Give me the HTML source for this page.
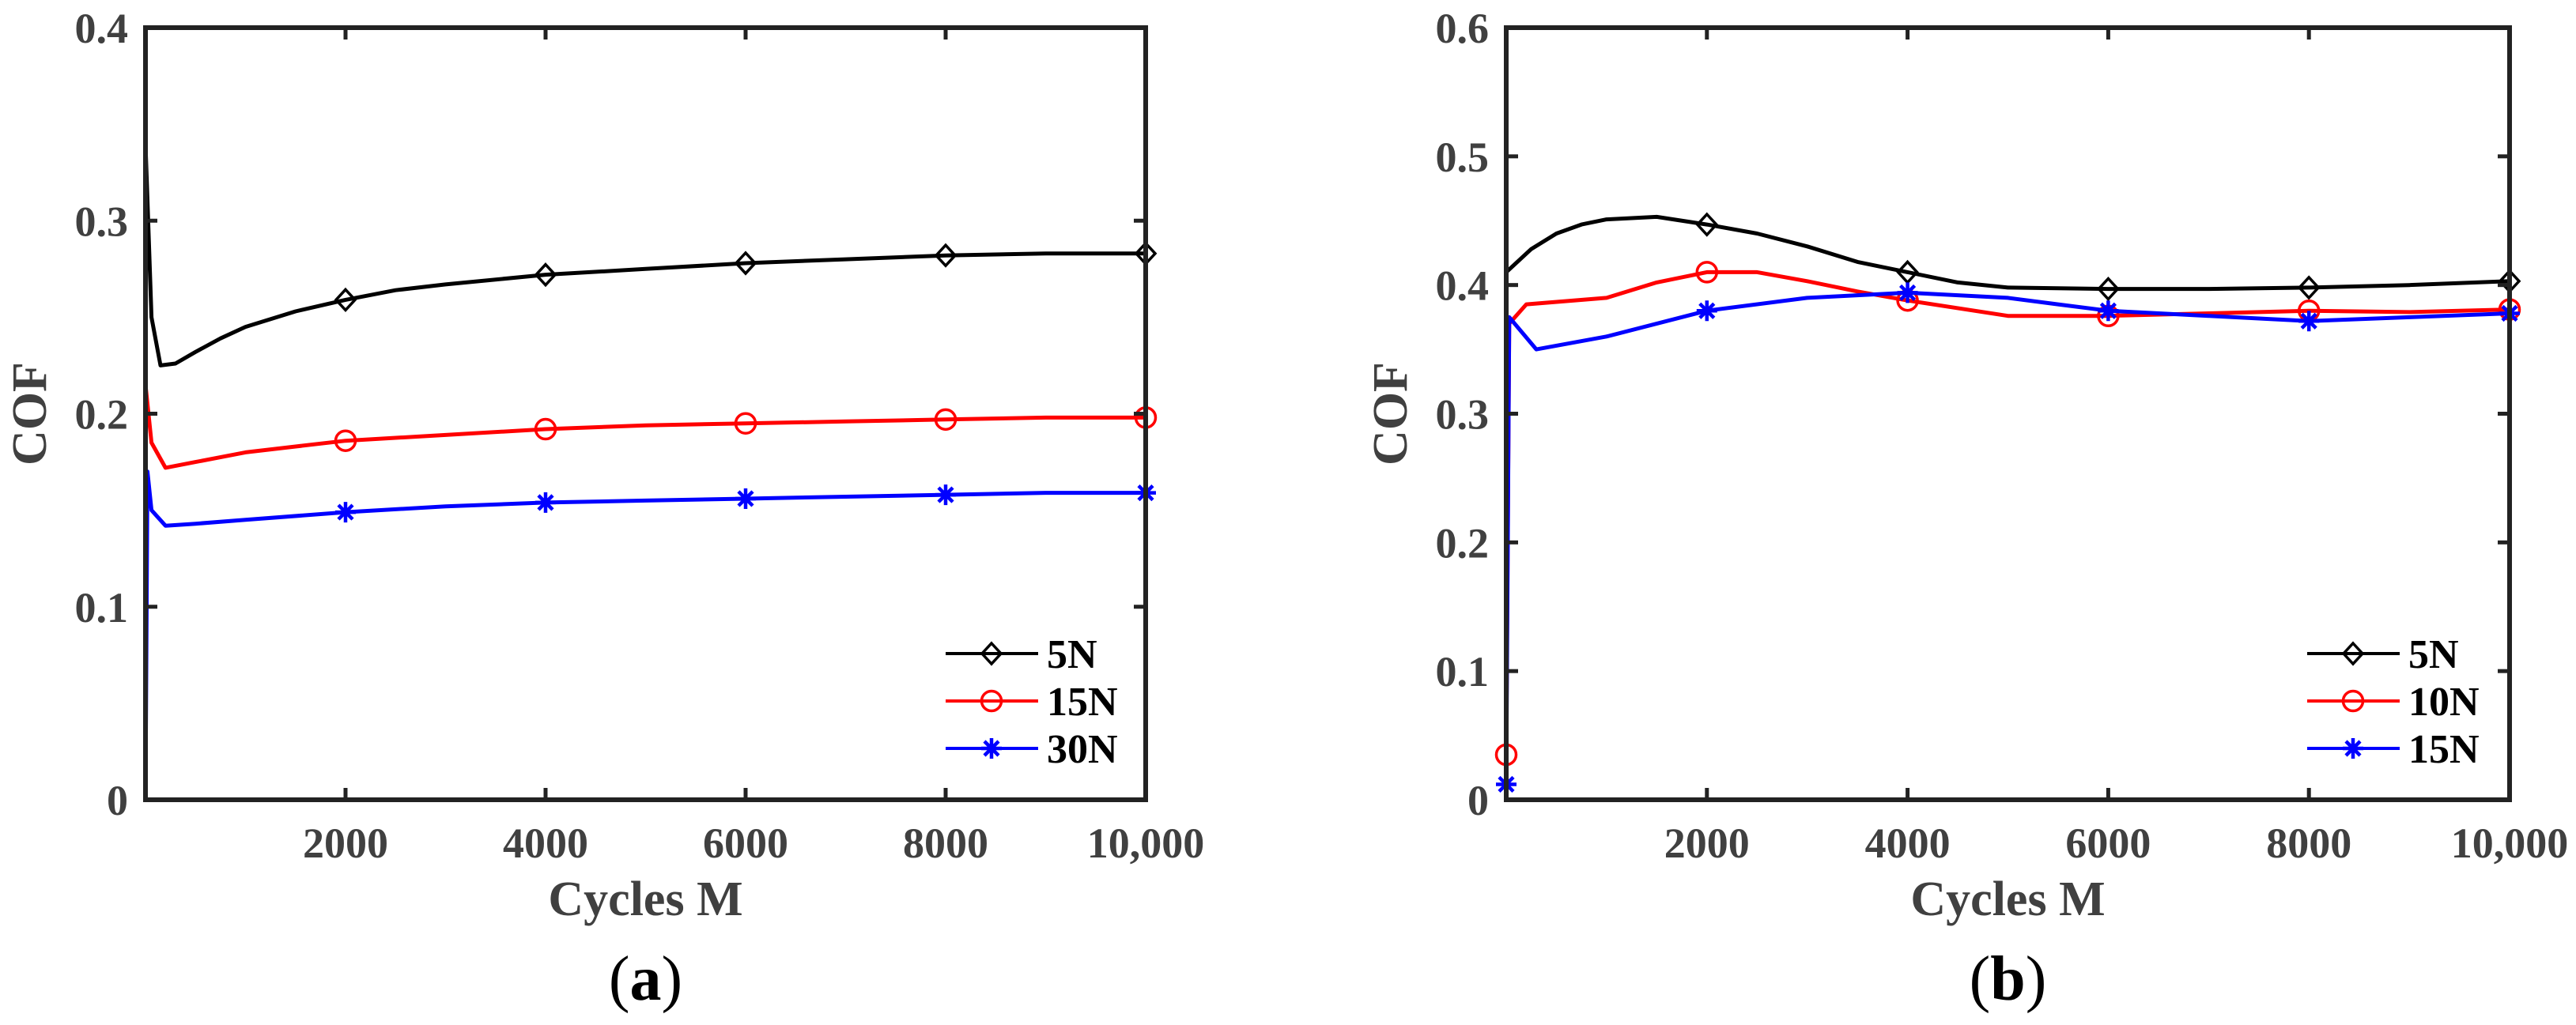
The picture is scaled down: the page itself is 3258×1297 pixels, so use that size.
<!DOCTYPE html>
<html><head><meta charset="utf-8"><style>
html,body{margin:0;padding:0;background:#fff;}
svg{display:block;font-family:"Liberation Serif",serif;}
</style></head><body>
<svg id="fig" width="3258" height="1297" viewBox="0 0 3258 1297" xmlns="http://www.w3.org/2000/svg"></svg>
<script>
// ---- Panel (a) data ----
const aX5 = [0, 60, 150, 300, 500, 750, 1000, 1500, 2000, 2500, 3000, 4000, 5000, 6000, 7000, 8000, 9000, 10000];
const aY5 = [0.34, 0.25, 0.225, 0.226, 0.232, 0.239, 0.245, 0.253, 0.259, 0.264, 0.267, 0.272, 0.275, 0.278, 0.280, 0.282, 0.283, 0.283];
const aX15 = [0, 60, 200, 500, 1000, 1500, 2000, 3000, 4000, 5000, 6000, 7000, 8000, 9000, 10000];
const aY15 = [0.215, 0.185, 0.172, 0.175, 0.180, 0.183, 0.186, 0.189, 0.192, 0.194, 0.195, 0.196, 0.197, 0.198, 0.198];
const aX30 = [0, 20, 60, 200, 500, 1000, 2000, 3000, 4000, 5000, 6000, 7000, 8000, 9000, 10000];
const aY30 = [0, 0.17, 0.15, 0.142, 0.143, 0.145, 0.149, 0.152, 0.154, 0.155, 0.156, 0.157, 0.158, 0.159, 0.159];
const aMarkX = [2000, 4000, 6000, 8000, 10000];
// ---- Panel (b) data ----
const bX5 = [0, 250, 500, 750, 1000, 1500, 2000, 2500, 3000, 3500, 4000, 4500, 5000, 6000, 7000, 8000, 9000, 10000];
const bY5 = [0.41, 0.428, 0.44, 0.447, 0.451, 0.453, 0.447, 0.44, 0.43, 0.418, 0.41, 0.402, 0.398, 0.397, 0.397, 0.398, 0.40, 0.403];
const bX10 = [0, 30, 200, 1000, 1500, 2000, 2500, 3000, 3500, 4000, 5000, 6000, 7000, 8000, 9000, 10000];
const bY10 = [0.035, 0.37, 0.385, 0.39, 0.402, 0.41, 0.41, 0.403, 0.395, 0.388, 0.376, 0.376, 0.378, 0.38, 0.379, 0.381];
const bX15 = [0, 30, 300, 1000, 2000, 3000, 4000, 5000, 5500, 6000, 7000, 8000, 9000, 10000];
const bY15 = [0.012, 0.375, 0.35, 0.36, 0.38, 0.39, 0.394, 0.39, 0.385, 0.38, 0.376, 0.372, 0.375, 0.378];
const bMarkX5 = [2000, 4000, 6000, 8000, 10000];
const bMarkX = [0, 2000, 4000, 6000, 8000, 10000];
const xTicks = [2000, 4000, 6000, 8000, 10000];
const xTickLabels = ["2000", "4000", "6000", "8000", "10,000"];
const aYTicks = [0, 0.1, 0.2, 0.3, 0.4];
const aYLabels = ["0", "0.1", "0.2", "0.3", "0.4"];
const bYTicks = [0, 0.1, 0.2, 0.3, 0.4, 0.5, 0.6];
const bYLabels = ["0", "0.1", "0.2", "0.3", "0.4", "0.5", "0.6"];
const aNames = ["5N", "15N", "30N"];
const bNames = ["5N", "10N", "15N"];

const svg = document.getElementById('fig');
const NS = 'http://www.w3.org/2000/svg';
function mk(tag, attrs, parent) {
  const e = document.createElementNS(NS, tag);
  for (const k in attrs) e.setAttribute(k, attrs[k]);
  (parent || svg).appendChild(e);
  return e;
}
function interp(xs, ys, x) {
  for (let i = 0; i < xs.length - 1; i++) {
    if (x >= xs[i] && x <= xs[i + 1]) {
      const t = (x - xs[i]) / (xs[i + 1] - xs[i]);
      return ys[i] + t * (ys[i + 1] - ys[i]);
    }
  }
  return ys[ys.length - 1];
}
function marker(g, type, color, x, y) {
  if (type === 'diamond') {
    mk('polygon', {points: `${x},${y-13} ${x+12},${y} ${x},${y+13} ${x-12},${y}`, fill: 'none', stroke: color, 'stroke-width': 3.5}, g);
  } else if (type === 'circle') {
    mk('circle', {cx: x, cy: y, r: 12.5, fill: 'none', stroke: color, 'stroke-width': 3.5}, g);
  } else {
    const r = 13;
    mk('path', {d: `M${x-r},${y}H${x+r}M${x},${y-r}V${y+r}M${x-9},${y-9}L${x+9},${y+9}M${x-9},${y+9}L${x+9},${y-9}`, stroke: color, 'stroke-width': 4.5}, g);
  }
}
function panel(opt) {
  const {L, R, T, B, ymax, yTicks, yLabels, series, names, tag, legX} = opt;
  const g = mk('g', {});
  
  
  const sx = v => L + (v / 10000) * (R - L);
  const sy = v => B - (v / ymax) * (B - T);
  series.forEach((s, si) => {
    const sg = mk('g', {}, g);
    
    
    const d = s.x.map((v, i) => (i ? 'L' : 'M') + sx(v).toFixed(1) + ',' + sy(s.y[i]).toFixed(1)).join('');
    mk('path', {d, fill: 'none', stroke: s.color, 'stroke-width': 5, 'stroke-linejoin': 'round'}, sg);
    s.mx.forEach(mv => marker(sg, s.m, s.color, sx(mv), sy(interp(s.x, s.y, mv))));
  });
  const box = mk('rect', {x: L, y: T, width: R - L, height: B - T, fill: 'none', stroke: '#222', 'stroke-width': 6}, g);
  
  
  xTicks.forEach((t, i) => {
    mk('line', {x1: sx(t), x2: sx(t), y1: B, y2: B - 15, stroke: '#222', 'stroke-width': 5}, g);
    mk('line', {x1: sx(t), x2: sx(t), y1: T, y2: T + 15, stroke: '#222', 'stroke-width': 5}, g);
    const tx = mk('text', {x: sx(t), y: 1085, 'text-anchor': 'middle', 'font-size': 54, 'font-weight': 'bold', fill: '#404040'}, g);
    tx.textContent = xTickLabels[i];
    
    
  });
  yTicks.forEach((t, i) => {
    mk('line', {x1: L, x2: L + 15, y1: sy(t), y2: sy(t), stroke: '#222', 'stroke-width': 5}, g);
    mk('line', {x1: R, x2: R - 15, y1: sy(t), y2: sy(t), stroke: '#222', 'stroke-width': 5}, g);
    const ty = mk('text', {x: L - 22, y: sy(t) + 19, 'text-anchor': 'end', 'font-size': 54, 'font-weight': 'bold', fill: '#404040'}, g);
    ty.textContent = yLabels[i];
    
    
  });
  const xt = mk('text', {x: (L + R) / 2, y: 1158, 'text-anchor': 'middle', 'font-size': 62, 'font-weight': 'bold', fill: '#404040'}, g);
  xt.textContent = 'Cycles M';
  
  
  const yt = mk('text', {x: L - 126, y: (T + B) / 2, 'text-anchor': 'middle', 'font-size': 62, 'font-weight': 'bold', fill: '#404040', transform: `rotate(-90 ${L - 126} ${(T + B) / 2})`}, g);
  yt.textContent = 'COF';
  
  
  const cap = mk('text', {x: (L + R) / 2, y: 1265, 'text-anchor': 'middle', 'font-size': 80, fill: '#000'}, g);
  cap.innerHTML = '(<tspan font-weight="bold">' + tag + '</tspan>)';
  
  
  series.forEach((s, si) => {
    const ly = 827 + si * 60;
    const lg = mk('g', {}, g);
    
    
    mk('line', {x1: legX, x2: legX + 117, y1: ly, y2: ly, stroke: s.color, 'stroke-width': 4}, lg);
    marker(lg, s.m, s.color, legX + 58, ly);
    const lt = mk('text', {x: legX + 128, y: ly + 18, 'font-size': 52, 'font-weight': 'bold', fill: '#000'}, lg);
    lt.textContent = names[si];
  });
}
panel({L: 184, R: 1449, T: 35, B: 1012, ymax: 0.4, yTicks: aYTicks, yLabels: aYLabels, names: aNames, tag: 'a', legX: 1196,
  series: [
    {x: aX5, y: aY5, color: '#000', m: 'diamond', mx: aMarkX},
    {x: aX15, y: aY15, color: '#f00', m: 'circle', mx: aMarkX},
    {x: aX30, y: aY30, color: '#00f', m: 'star', mx: aMarkX}
  ]});
panel({L: 1905, R: 3174, T: 35, B: 1012, ymax: 0.6, yTicks: bYTicks, yLabels: bYLabels, names: bNames, tag: 'b', legX: 2918,
  series: [
    {x: bX5, y: bY5, color: '#000', m: 'diamond', mx: bMarkX5},
    {x: bX10, y: bY10, color: '#f00', m: 'circle', mx: bMarkX},
    {x: bX15, y: bY15, color: '#00f', m: 'star', mx: bMarkX}
  ]});
</script>
</body></html>
